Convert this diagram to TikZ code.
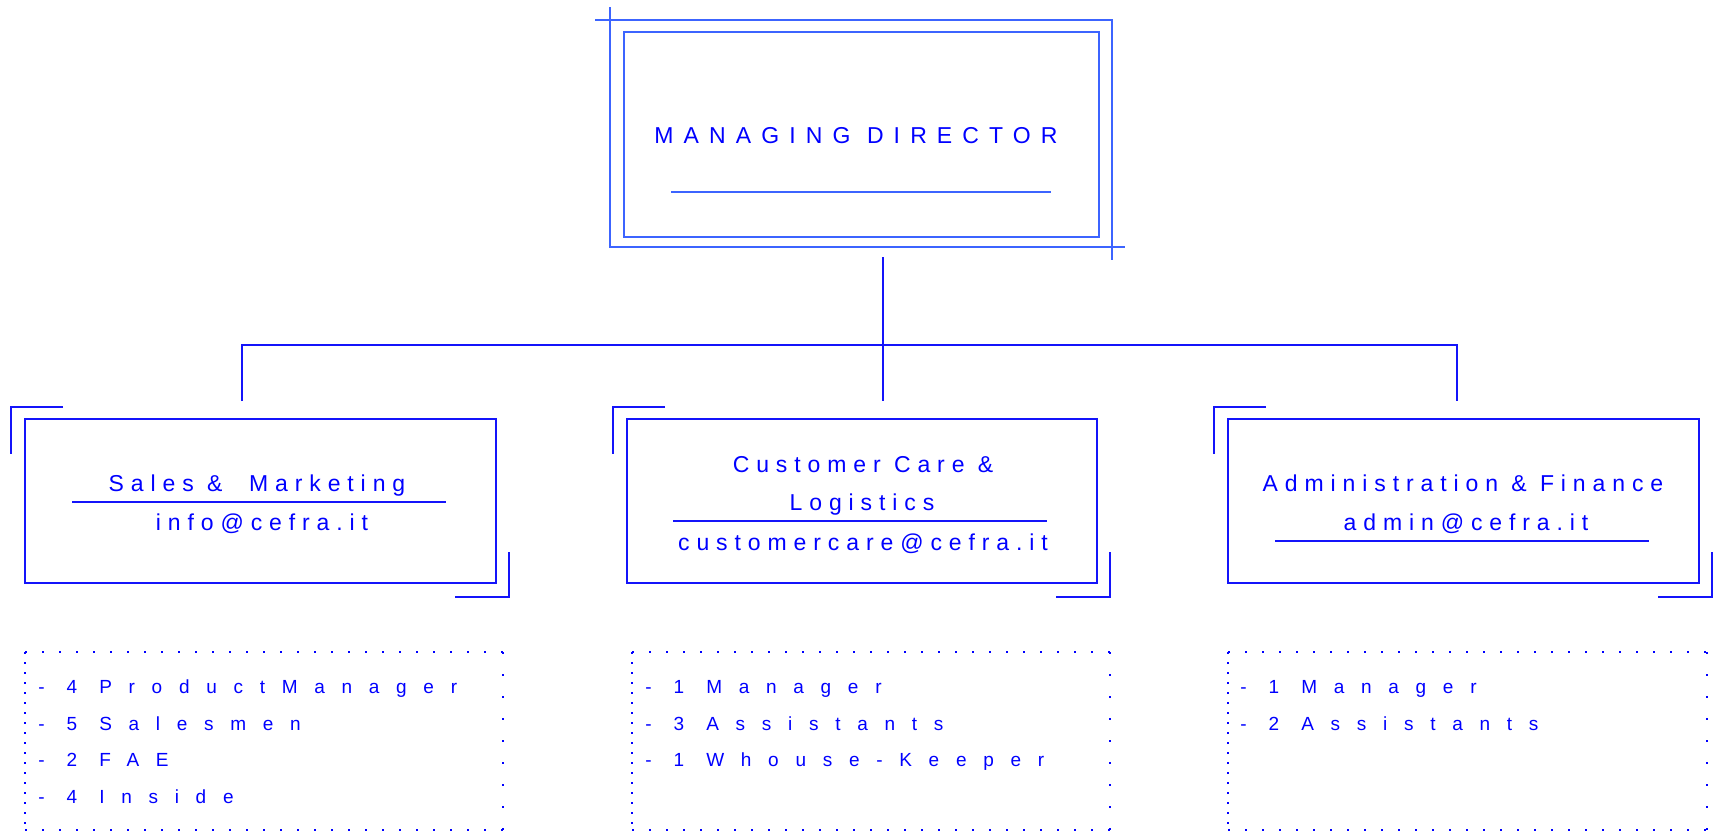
\documentclass[tikz,border=0pt]{standalone}
\usepackage{fontspec}
\setmainfont{Liberation Sans}
\newfontfamily\titlefont[LetterSpace=44]{Liberation Sans}
\newfontfamily\labelfont[LetterSpace=30]{Liberation Sans}
\newfontfamily\listfont[LetterSpace=88]{Liberation Sans}
\usetikzlibrary{fit,calc}

\definecolor{inkblue}{RGB}{0,0,255}
\definecolor{frameblue}{RGB}{60,100,255}
\definecolor{boxblue}{RGB}{20,20,250}

\begin{document}
\begin{tikzpicture}[x=0.5pt,y=-0.5pt,
  region/.style={inner sep=0pt, outer sep=0pt},
  frameline/.style={draw=frameblue, line width=1pt},
  deptbox/.style={region, draw=boxblue, line width=1.2pt},
  bracket/.style={draw=boxblue, line width=1.2pt},
  wire/.style={draw=boxblue, line width=1.1pt},
  rule/.style={draw=boxblue, line width=0.9pt},
  dotside/.style={draw=inkblue, line width=1pt, dash pattern=on 1pt off #1},
  titletext/.style={inner sep=0pt, text=inkblue, font=\titlefont\fontsize{11.5pt}{14pt}\selectfont},
  labeltext/.style={inner sep=0pt, text=inkblue, font=\labelfont\fontsize{11.5pt}{14pt}\selectfont},
  listtext/.style={inner sep=0pt, text=inkblue, anchor=base west, font=\listfont\fontsize{9.5pt}{11pt}\selectfont}
]
\useasboundingbox (0,0) rectangle (1713,832);

% ---- managing director ----
\node[region, fit={(610,20)(1112,247)}] (mdframe) {};
\node[region, fit={(624,32)(1099,237)}, draw=frameblue, line width=1pt] (md) {};
\draw[frameline] ($(mdframe.north west)+(-15,0)$) -- (mdframe.north east) -- ($(mdframe.south east)+(0,13)$);
\draw[frameline] ($(mdframe.north west)+(0,-13)$) -- (mdframe.south west) -- ($(mdframe.south east)+(13,0)$);
\node[titletext, anchor=base] (mdtitle) at (856,143) {MANAGING DIRECTOR};
\draw[frameline] (671,192) -- (1051,192);

% ---- departments ----
\node[deptbox, fit={(25,419)(496,583)}] (sales) {};
\node[deptbox, fit={(627,419)(1097,583)}] (care) {};
\node[deptbox, fit={(1228,419)(1699,583)}] (admin) {};

\foreach \b in {sales,care,admin}{
  \draw[bracket] ($(\b.north west)+(38,-12)$) -- ($(\b.north west)+(-14,-12)$) -- ($(\b.north west)+(-14,35)$);
  \draw[bracket] ($(\b.south east)+(13,-31)$) -- ($(\b.south east)+(13,14)$) -- ($(\b.south east)+(-41,14)$);
}

\node[labeltext, anchor=base] (salesname) at (257,491) {Sales \&\ \ Marketing};
\draw[rule] (72,502) -- (446,502);
\node[labeltext, anchor=base] (salesmail) at (262,530) {info@cefra.it};

\node[labeltext, anchor=base] (carename1) at (863,472) {Customer Care \&};
\node[labeltext, anchor=base] (carename2) at (862,510) {Logistics};
\draw[rule] (673,521) -- (1047,521);
\node[labeltext, anchor=base] (caremail) at (863,550) {customercare@cefra.it};

\node[labeltext, anchor=base] (adminname) at (1463,491) {Administration \& Finance};
\node[labeltext, anchor=base] (adminmail) at (1466,530) {admin@cefra.it};
\draw[rule] (1275,541) -- (1649,541);

% ---- connectors ----
\coordinate (trunk) at (883,257);
\coordinate (trunkEnd) at (883,401);
\coordinate (busL) at (242,345);
\coordinate (busR) at (1457,345);
\coordinate (salesTap) at (242,401);
\coordinate (adminTap) at (1457,401);
\draw[wire] (trunk) -- (trunkEnd);
\draw[wire] (salesTap) -- (busL) -- (busR) -- (adminTap);

% ---- staff lists, dotted frames ----
\foreach \n/\xl/\xr in {staffS/25/503, staffC/632/1110, staffA/1228/1707}{
  \coordinate (\n-nw) at (\xl,652);
  \coordinate (\n-ne) at (\xr,652);
  \coordinate (\n-sw) at (\xl,830);
  \coordinate (\n-se) at (\xr,830);
  \draw[dotside=7.5pt] (\n-nw) -- (\n-ne);
  \draw[dotside=7.5pt] (\n-sw) -- (\n-se);
  \draw[dotside=4pt] (\n-nw) -- (\n-sw);
  \draw[dotside=10pt] (\n-ne) -- (\n-se);
}

\node[listtext] (s1) at (38,693) {- 4 ProductManager};
\node[listtext] (s2) at (38,730) {- 5 Salesmen};
\node[listtext] (s3) at (38,766) {- 2 FAE};
\node[listtext] (s4) at (38,803) {- 4 Inside};

\node[listtext] (c1) at (645,693) {- 1 Manager};
\node[listtext] (c2) at (645,730) {- 3 Assistants};
\node[listtext] (c3) at (645,766) {- 1 Whouse-Keeper};

\node[listtext] (a1) at (1240,693) {- 1 Manager};
\node[listtext] (a2) at (1240,730) {- 2 Assistants};
\end{tikzpicture}
\end{document}
